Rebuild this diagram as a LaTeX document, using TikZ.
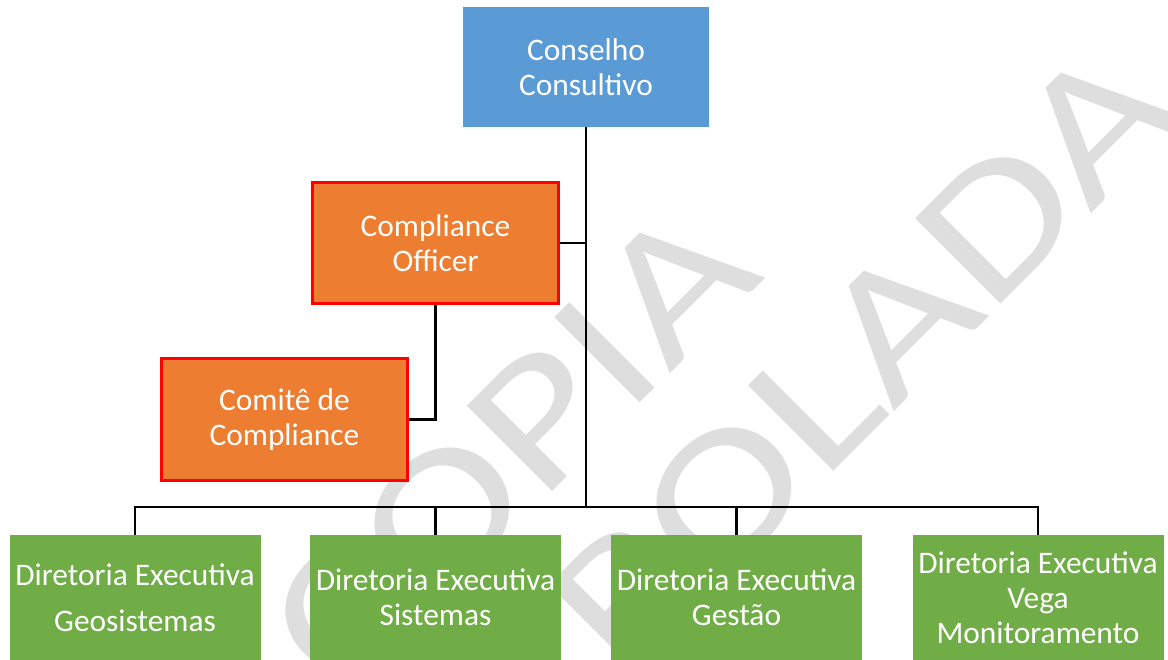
\documentclass[tikz,border=0pt]{standalone}
\usepackage{fontspec}
\setmainfont{Carlito}
\usepackage{graphicx}
\usetikzlibrary{backgrounds}
\definecolor{cblue}{HTML}{5B9BD5}
\definecolor{corange}{HTML}{ED7D31}
\definecolor{cgreen}{HTML}{70AD47}
\definecolor{cred}{HTML}{FF0000}
\definecolor{wmgray}{HTML}{DEDEDE}
\begin{document}
\begin{tikzpicture}[x=1pt,y=-1pt,
  box/.style={inner sep=0pt, align=center, text=white, font=\fontsize{31.4}{35}\selectfont},
  bluebox/.style={box, fill=cblue, minimum width=246pt, minimum height=120pt},
  orangebox/.style={box, fill=corange, draw=cred, line width=3pt, minimum width=246pt, minimum height=121pt},
  greenbox/.style={box, fill=cgreen, minimum width=251pt, minimum height=125pt},
  link/.style={draw=black, line width=2.6pt},
  wm/.style={text=wmgray, inner sep=0pt, font=\fontsize{188}{200}\selectfont}]
\useasboundingbox (0,0) rectangle (1168,660);

\node[bluebox] (cc) at (586,67) {Conselho\\Consultivo};
\node[orangebox] (off) at (435.5,243) {Compliance\\Officer};
\node[orangebox] (com) at (284.5,419.5) {Comitê de\\Compliance};

\node[greenbox] (g1) at (135,597.5) {Diretoria Executiva\\[11pt]Geosistemas};
\node[greenbox] (g2) at (435.5,597.5) {Diretoria Executiva\\Sistemas};
\node[greenbox] (g3) at (736.5,597.5) {Diretoria Executiva\\Gestão};
\node[greenbox] (g4) at (1038,597.5) {Diretoria Executiva\\Vega\\Monitoramento};

\begin{scope}[on background layer]
  \fill[white] (0,0) rectangle (1168,660);
  \node[wm, rotate=45] (wm1) at (511,447) {\scalebox{1.26}[1]{COPIA}};
  \node[wm, rotate=45] (wm2) at (668,552) {\scalebox{1.26}[1]{CONTROLADA}};
  \coordinate (bus) at (586,507);
  \draw[link] (cc.south) -- (bus);
  \draw[link] (off.east) -- (off.east -| bus);
  \draw[link] (off.south) |- (com.east);
  \draw[link] (g1.north) |- (bus) -| (g4.north);
  \draw[link] (g2.north) -- (g2.north |- bus);
  \draw[link] (g3.north) -- (g3.north |- bus);
\end{scope}
\end{tikzpicture}
\end{document}
